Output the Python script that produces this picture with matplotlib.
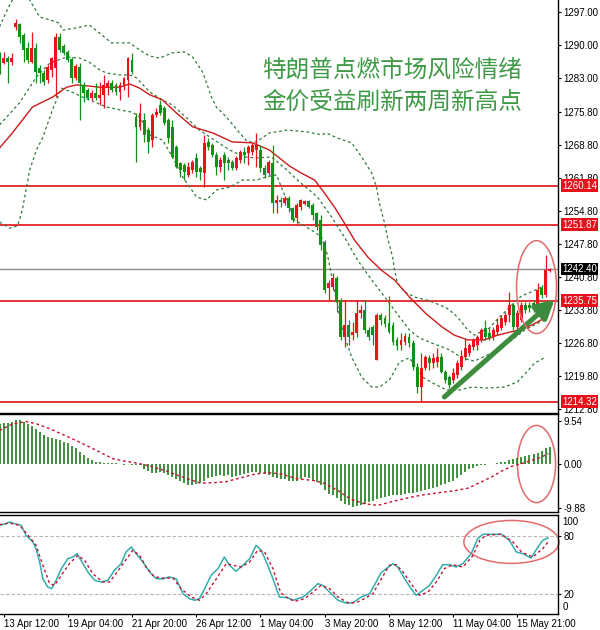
import numpy as np
import matplotlib
matplotlib.use('Agg')
import matplotlib.pyplot as plt
from matplotlib.patches import Ellipse
from matplotlib.transforms import blended_transform_factory

plt.rcParams['font.family'] = ['Liberation Sans', 'DejaVu Sans']

# === 4H gold candles ===
opens = np.array([
    1287.4, 1286.1, 1287.2, 1286.3, 1293.8, 1294.4, 1292.1, 1289.3, 1286.3, 1289.3,
    1285.1, 1284.0, 1282.5, 1284.7, 1285.1, 1291.7, 1289.7, 1288.5, 1287.0, 1283.0,
    1285.3, 1281.5, 1280.4, 1278.7, 1279.8, 1278.7, 1279.4, 1280.8, 1281.9, 1281.5,
    1280.0, 1281.5, 1282.5, 1286.8, 1274.7, 1272.6, 1274.0, 1271.9, 1269.8, 1275.1,
    1277.2, 1276.6, 1274.0, 1272.6, 1268.3, 1264.9, 1264.5, 1262.4, 1263.4, 1266.0,
    1263.9, 1262.8, 1269.4, 1268.7, 1266.6, 1264.1, 1266.6, 1265.6, 1265.1, 1263.9,
    1265.6, 1267.3, 1267.0, 1267.3, 1267.7, 1267.7, 1263.9, 1262.8, 1264.9, 1256.4,
    1257.1, 1256.4, 1257.5, 1255.4, 1253.3, 1255.6, 1256.2, 1256.9, 1256.0, 1254.3,
    1252.8, 1248.2, 1238.4, 1238.6, 1240.5, 1235.9, 1228.0, 1230.6, 1228.4, 1228.9,
    1233.1, 1233.7, 1229.5, 1230.1, 1223.1, 1232.7, 1232.0, 1231.0, 1230.6, 1227.4,
    1226.3, 1227.0, 1228.0, 1226.7, 1221.6, 1217.4, 1221.4, 1223.6, 1222.5, 1222.7,
    1223.8, 1220.6, 1219.5, 1218.9, 1219.9, 1221.6, 1223.8, 1224.6, 1225.9, 1226.3,
    1227.4, 1229.9, 1228.9, 1228.0, 1229.1, 1229.9, 1231.2, 1232.7, 1234.8, 1230.1,
    1231.6, 1234.8, 1234.8, 1235.2, 1234.2, 1238.4, 1236.9, 1242.0])
highs = np.array([
    1288.5, 1288.5, 1287.6, 1288.3, 1295.5, 1294.6, 1292.5, 1290.6, 1292.7, 1290.4,
    1285.7, 1284.7, 1285.7, 1287.4, 1292.5, 1292.5, 1290.2, 1288.9, 1287.4, 1285.9,
    1286.1, 1282.1, 1280.8, 1280.4, 1281.9, 1282.1, 1283.6, 1282.5, 1282.5, 1281.9,
    1282.1, 1283.2, 1287.4, 1288.3, 1275.5, 1277.6, 1275.5, 1272.6, 1275.5, 1276.6,
    1278.3, 1277.0, 1274.5, 1274.0, 1268.7, 1265.1, 1264.9, 1265.1, 1265.6, 1267.0,
    1264.3, 1270.9, 1270.2, 1269.2, 1267.3, 1266.2, 1267.3, 1266.2, 1265.6, 1266.4,
    1267.7, 1268.3, 1268.7, 1269.2, 1271.3, 1268.7, 1264.5, 1265.6, 1268.7, 1258.1,
    1257.7, 1257.9, 1257.9, 1255.6, 1256.4, 1257.3, 1257.1, 1257.1, 1256.4, 1254.5,
    1253.9, 1248.6, 1240.1, 1241.6, 1240.9, 1236.3, 1235.9, 1231.6, 1231.2, 1235.9,
    1234.8, 1235.9, 1230.1, 1230.6, 1233.1, 1233.1, 1232.7, 1236.7, 1231.2, 1228.0,
    1228.9, 1228.9, 1228.9, 1227.4, 1222.5, 1224.6, 1224.2, 1224.2, 1224.6, 1225.7,
    1224.6, 1221.0, 1219.9, 1221.4, 1223.1, 1225.3, 1227.8, 1226.7, 1227.8, 1228.4,
    1229.9, 1231.6, 1229.9, 1230.1, 1232.0, 1232.7, 1233.3, 1237.5, 1235.2, 1233.7,
    1235.4, 1235.4, 1235.4, 1235.9, 1239.5, 1239.0, 1245.4, 1242.7])
lows = np.array([
    1283.8, 1285.9, 1281.9, 1285.7, 1293.1, 1290.4, 1286.3, 1286.1, 1286.1, 1281.9,
    1281.9, 1281.5, 1281.9, 1283.2, 1278.9, 1288.5, 1287.8, 1286.3, 1281.9, 1282.5,
    1274.0, 1277.9, 1278.3, 1278.3, 1278.3, 1277.2, 1276.6, 1279.4, 1280.0, 1279.4,
    1278.3, 1280.4, 1278.9, 1283.8, 1265.1, 1271.9, 1269.4, 1267.0, 1268.3, 1274.7,
    1275.1, 1273.0, 1269.2, 1266.0, 1263.9, 1262.0, 1261.3, 1262.0, 1262.8, 1262.0,
    1261.3, 1259.8, 1267.7, 1266.2, 1262.4, 1263.0, 1261.3, 1263.4, 1263.4, 1263.4,
    1264.9, 1264.9, 1264.5, 1266.6, 1264.0, 1263.0, 1261.7, 1262.4, 1254.3, 1254.3,
    1255.6, 1256.0, 1254.5, 1252.4, 1252.2, 1255.0, 1256.0, 1255.4, 1252.8, 1250.7,
    1246.5, 1237.3, 1235.9, 1238.0, 1233.3, 1227.4, 1225.9, 1226.3, 1227.4, 1228.0,
    1232.0, 1228.9, 1227.4, 1226.3, 1223.1, 1230.6, 1230.1, 1228.9, 1226.3, 1225.3,
    1225.3, 1226.3, 1225.9, 1221.0, 1216.1, 1214.4, 1221.0, 1221.0, 1221.4, 1221.6,
    1220.4, 1218.3, 1217.2, 1218.3, 1219.3, 1221.0, 1223.1, 1224.0, 1225.3, 1225.3,
    1227.0, 1227.4, 1227.4, 1227.4, 1228.4, 1229.5, 1230.6, 1231.2, 1229.5, 1229.5,
    1231.2, 1233.1, 1233.3, 1233.3, 1233.7, 1236.3, 1236.5, 1241.8])
closes = np.array([
    1284.0, 1287.2, 1286.3, 1287.2, 1294.6, 1291.7, 1288.9, 1286.8, 1289.3, 1284.2,
    1284.0, 1282.1, 1285.3, 1287.2, 1291.7, 1288.9, 1288.3, 1286.8, 1283.0, 1285.5,
    1281.9, 1279.8, 1278.7, 1279.8, 1278.7, 1279.4, 1281.5, 1281.9, 1280.4, 1280.0,
    1281.5, 1283.0, 1287.2, 1284.2, 1272.6, 1275.5, 1270.9, 1269.4, 1275.1, 1275.7,
    1275.5, 1273.4, 1270.2, 1266.2, 1264.1, 1263.4, 1263.0, 1264.1, 1265.1, 1263.0,
    1263.0, 1269.2, 1268.3, 1266.6, 1264.1, 1265.6, 1264.9, 1264.9, 1263.9, 1266.0,
    1267.3, 1266.6, 1268.3, 1268.7, 1268.7, 1263.9, 1262.4, 1265.1, 1256.4, 1257.1,
    1256.6, 1257.5, 1255.4, 1252.8, 1256.0, 1257.1, 1256.9, 1255.6, 1253.9, 1251.3,
    1247.5, 1238.0, 1239.5, 1240.5, 1235.4, 1228.0, 1230.6, 1228.0, 1229.1, 1233.1,
    1233.7, 1229.5, 1228.0, 1228.4, 1232.7, 1231.6, 1230.8, 1229.1, 1227.0, 1226.1,
    1227.4, 1228.2, 1226.7, 1221.6, 1217.4, 1221.4, 1223.8, 1222.5, 1223.6, 1223.8,
    1220.6, 1218.9, 1217.8, 1220.4, 1222.5, 1224.0, 1225.7, 1226.3, 1227.4, 1228.0,
    1229.5, 1228.0, 1227.8, 1229.5, 1230.6, 1232.0, 1232.7, 1234.8, 1230.1, 1233.1,
    1234.8, 1233.7, 1234.2, 1234.2, 1238.0, 1236.9, 1242.2, 1242.4])

# Bollinger bands (upper / middle / lower), sampled at candle positions
upper_i = [0.0, 1.7, 3.2, 5.0, 6.7, 7.5, 8.7, 10.0, 12.5, 14.9, 15.7, 19.2, 22.4, 24.9, 27.9,
           32.4, 34.9, 37.4, 39.9, 43.1, 46.1, 48.1, 50.6, 52.8, 54.0, 56.5, 59.8, 61.8, 64.0,
           67.2, 71.7, 76.7, 80.2, 81.4, 84.2, 87.7, 90.2, 92.7, 93.9, 94.6, 95.9, 96.6, 97.9,
           98.4, 99.1, 100.9, 103.4, 107.1, 111.3, 113.3, 115.1, 116.6, 118.3, 120.3, 122.0,
           123.8, 126.3, 128.3, 130.0, 132.5, 135.0, 136.2]
upper_v = [1293.8, 1297.0, 1299.5, 1301.2, 1300.3, 1299.5, 1297.8, 1295.9, 1295.3, 1294.6,
           1293.1, 1293.6, 1294.2, 1292.5, 1290.4, 1290.4, 1288.9, 1287.6, 1287.2, 1288.3,
           1288.5, 1287.4, 1284.2, 1278.9, 1276.8, 1274.7, 1271.3, 1269.4, 1269.4, 1271.3,
           1271.9, 1271.5, 1270.9, 1271.3, 1270.2, 1269.2, 1266.2, 1262.8, 1259.8, 1256.4,
           1252.2, 1249.2, 1245.0, 1242.2, 1239.5, 1237.6, 1236.5, 1235.7, 1234.2, 1232.9,
           1231.2, 1229.5, 1228.4, 1229.3, 1229.9, 1231.6, 1233.7, 1235.4, 1236.7, 1237.6,
           1238.6, 1239.3]
mid_i = [0.0, 5.0, 9.2, 12.5, 16.7, 19.9, 22.4, 24.9, 26.7, 29.9, 32.4, 34.1, 37.4, 40.6,
         43.1, 46.6, 49.8, 53.5, 57.3, 61.0, 64.0, 67.7, 71.0, 74.2, 79.2, 82.7, 85.9, 89.2,
         92.2, 94.6, 97.1, 99.6, 102.1, 104.6, 107.8, 112.1, 115.1, 118.3, 121.5, 125.0,
         128.3, 130.8, 133.3, 135.7]
mid_v = [1273.0, 1277.7, 1283.2, 1286.1, 1287.4, 1287.2, 1286.3, 1284.7, 1284.0, 1283.6,
         1283.6, 1283.0, 1280.0, 1278.3, 1277.2, 1274.5, 1271.9, 1269.8, 1267.7, 1266.2,
         1266.0, 1266.2, 1263.9, 1261.3, 1257.7, 1253.5, 1249.2, 1244.3, 1240.7, 1238.0,
         1235.2, 1232.3, 1229.5, 1227.8, 1226.7, 1225.3, 1223.6, 1222.9, 1224.2, 1225.7,
         1227.8, 1229.5, 1230.6, 1231.6]
low_i = [0.0, 2.5, 4.5, 5.7, 7.5, 9.2, 10.7, 13.2, 15.4, 17.9, 20.7, 24.2, 26.7, 29.9, 33.1,
         34.9, 37.4, 40.6, 43.1, 45.6, 49.1, 51.6, 54.0, 57.3, 60.5, 64.0, 66.5, 69.0, 71.0,
         73.5, 77.7, 80.2, 81.7, 83.4, 85.4, 87.7, 90.2, 92.7, 94.6, 97.1, 99.6, 102.1, 105.4,
         107.8, 111.3, 114.6, 117.6, 121.5, 125.8, 129.0, 131.3, 133.3, 135.7]
low_v = [1252.4, 1251.1, 1251.6, 1255.0, 1263.4, 1267.7, 1270.2, 1276.2, 1280.8, 1280.0,
         1278.9, 1277.7, 1276.8, 1276.2, 1275.7, 1274.7, 1270.9, 1269.8, 1266.2, 1262.0,
         1257.7, 1257.1, 1259.2, 1259.8, 1261.3, 1261.3, 1262.0, 1262.4, 1258.1, 1252.8,
         1250.7, 1249.2, 1245.4, 1238.0, 1229.5, 1223.8, 1219.5, 1217.4, 1217.4, 1218.9,
         1222.7, 1223.6, 1219.5, 1218.3, 1216.8, 1216.8, 1217.4, 1217.2, 1217.4, 1218.5,
         1220.6, 1222.5, 1223.6]

# red moving average
ma_i = [0.0, 3.2, 8.2, 13.2, 16.7, 19.2, 21.7, 24.9, 29.9, 32.4, 34.9, 37.4, 40.6, 44.1, 48.1,
        53.1, 58.0, 63.0, 67.2, 72.2, 74.7, 78.5, 80.9, 83.4, 85.9, 88.4, 91.7, 95.1, 98.4,
        102.1, 106.3, 110.3, 113.3, 116.6, 120.8, 124.0, 128.3, 131.5, 134.0, 136.2]
ma_v = [1268.1, 1271.3, 1276.8, 1278.9, 1281.0, 1281.5, 1281.3, 1281.0, 1281.0, 1281.7,
        1280.8, 1279.4, 1278.3, 1275.5, 1272.6, 1271.3, 1269.4, 1269.2, 1267.7, 1264.3,
        1263.0, 1261.3, 1258.6, 1255.6, 1252.2, 1248.6, 1245.0, 1242.2, 1240.1, 1236.5,
        1232.9, 1230.1, 1228.4, 1227.4, 1227.4, 1228.4, 1229.3, 1230.1, 1231.2, 1232.3]

red_levels = [1260.14, 1251.87, 1235.75, 1214.32]
last_price = 1242.40
price_ticks = [1297.00, 1290.00, 1283.00, 1275.80, 1268.80, 1261.80, 1254.80,
               1247.80, 1240.80, 1233.80, 1226.80, 1219.80, 1212.80]

# MACD
macd_hist = [
    9.0, 9.2, 9.2, 9.4, 9.8, 9.8, 9.4, 9.0, 8.6, 7.9,
    7.1, 6.4, 6.0, 5.8, 5.6, 5.4, 5.0, 4.7, 4.1, 3.5,
    2.6, 2.0, 1.3, 0.75, 0.5, 0.4, 0.2, 0.15, 0.1, 0.05,
    -0.1, -0.2, -0.1, -0.3, -0.3, -0.4, -1.3, -1.7, -2.0, -2.0,
    -1.9, -2.0, -2.5, -3.0, -3.4, -4.0, -4.3, -4.8, -4.8, -4.5,
    -4.3, -3.8, -3.3, -3.0, -2.8, -2.6, -2.8, -2.6, -3.0, -2.8,
    -2.5, -2.3, -2.1, -1.9, -1.9, -2.1, -2.3, -2.6, -3.0, -3.3,
    -3.4, -3.4, -3.8, -4.0, -3.8, -3.4, -3.0, -3.2, -3.8, -4.1,
    -4.9, -6.0, -6.8, -7.1, -7.7, -8.5, -9.0, -9.4, -9.8, -9.5,
    -9.2, -9.0, -8.6, -8.5, -8.0, -7.7, -7.5, -7.3, -7.1, -7.1,
    -7.0, -6.8, -6.6, -6.5, -6.4, -6.2, -6.0, -5.8, -5.5, -5.3,
    -4.9, -4.5, -4.1, -3.8, -3.2, -2.6, -1.9, -1.3, -1.0, -0.6,
    -0.4, -0.2, -0.15, 0.0, 0.15, 0.4, 0.5, 0.9, 1.1, 1.4,
    1.5, 1.7, 2.0, 2.3, 2.5, 2.8, 3.5, 3.8]
sig_i = [0, 3.3, 6.7, 9.2, 12.5, 16.7, 20.8, 25.0, 28.3, 31.7, 35.0, 38.3, 41.7, 45.0, 47.5,
         50.0, 53.3, 56.7, 60.0, 63.3, 66.7, 70.0, 74.2, 78.3, 80.8, 84.2, 87.5, 90.8, 94.2,
         97.5, 101.7, 105.0, 109.0, 113.3, 116.7, 120.0, 122.5, 125.0, 127.5, 130.0, 132.5,
         135.0, 136.7]
sig_v = [7.5, 9.0, 9.5, 9.0, 7.9, 6.2, 4.5, 2.6, 1.1, 0.5, 0.0, -0.75, -1.7, -2.8, -3.6,
         -4.35, -4.3, -4.0, -3.2, -2.4, -2.0, -2.3, -3.4, -3.8, -4.4, -6.0, -8.0, -9.0, -9.4,
         -8.6, -7.7, -7.1, -6.6, -6.1, -5.5, -4.1, -3.0, -1.7, -0.6, 0.0, 0.75, 1.5, 2.3]

# Stochastic %K / %D
k_i = [0, 1.7, 2.5, 3.7, 5.4, 6.6, 8.3, 9.1, 10.0, 10.8, 12.0, 13.0, 14.1, 15.4, 17.0, 18.3,
       19.3, 20.3, 22.0, 23.7, 25.3, 27.0, 28.6, 30.3, 31.5, 32.8, 34.0, 35.7, 37.4, 39.0,
       40.7, 42.3, 44.0, 45.7, 47.3, 48.6, 49.8, 51.1, 52.7, 54.4, 56.0, 57.3, 58.9, 60.6,
       62.3, 63.9, 65.2, 66.8, 68.1, 69.7, 71.7, 73.1, 75.6, 77.6, 79.3, 80.5, 82.2, 84.3,
       86.3, 88.0, 90.1, 92.2, 93.8, 95.0, 96.3, 98.0, 99.2, 100.9, 102.5, 103.8, 105.4,
       107.1, 108.8, 110.4, 112.1, 113.7, 115.4, 117.5, 119.1, 120.4, 122.1, 125.0, 127.0,
       128.7, 130.3, 132.4, 134.1, 135.3, 136.6]
k_v = [91, 92.7, 94.5, 92.7, 91, 80.8, 74, 67, 53, 36, 27.6, 25.9, 34.4, 46.4, 56.7, 58.4,
       61.9, 55, 43, 34.4, 32.7, 34.4, 44.7, 51.6, 63.6, 68.7, 62, 53.3, 43, 36.1,
       36, 37.9, 36, 20.7, 15.6, 13.9, 15.6, 25.9, 39.6, 46.4, 58.4, 49.9, 43.7, 49.9,
       56.7, 70.4, 65.3, 49.9, 36, 17.3, 16.6, 13.9, 17.3, 24.1, 31, 29.3, 22.4, 13.9,
       11.1, 11.4, 17.3, 20.7, 32.7, 42, 46.4, 51.6, 48.1, 36, 25.9, 19, 24.1,
       29.3, 39.6, 50.5, 50.5, 48.1, 51.6, 61.9, 77.3, 81.8, 81.8, 81.8, 75.6,
       63.6, 61.9, 57.4, 68.7, 75.6, 78]
d_i = [0, 2.5, 5.0, 7.1, 9.1, 10.8, 12.5, 13.7, 15.4, 17.4, 19.5, 21.2, 23.2, 25.7, 27.4,
       29.0, 31.1, 33.2, 34.9, 36.5, 38.6, 40.7, 43.2, 45.2, 47.7, 49.8, 51.5, 54.0, 56.5,
       58.1, 60.2, 62.3, 64.3, 66.0, 68.1, 70.0, 71.4, 73.5, 76.0, 78.1, 80.1, 82.2, 84.3,
       86.8, 88.8, 90.9, 93.0, 95.1, 97.1, 98.8, 100.5, 102.5, 104.6, 106.7, 108.8, 110.8,
       112.9, 115.4, 117.9, 119.6, 121.2, 125.0, 127.9, 130.0, 132.8, 135.3, 136.6]
d_v = [91.7, 93.4, 91, 80.8, 70.5, 49.9, 31, 29.3, 39.6, 51.6, 60.1, 55, 41.3, 32.7, 32.7,
       41.3, 53.3, 65.3, 60.1, 48.1, 37.9, 36.8, 36.8, 25.9, 17.3, 13.9, 20.7, 36, 51.6,
       49.9, 48.1, 53.3, 65.3, 63.6, 46.4, 22, 17.3, 12.8, 15.6, 22.4, 29.3, 25.9, 17.3,
       11.4, 11.4, 15.6, 20.7, 36, 49.9, 50.5, 43, 31, 19, 22.4, 32.7, 46.4,
       50.5, 48.1, 59.8, 75.6, 80.8, 81.8, 73.8, 63.6, 58.4, 67, 73.8]

date_idx = [1, 17, 33, 49, 65, 81, 97, 113, 129]
date_labels = ['13 Apr 12:00', '19 Apr 04:00', '21 Apr 20:00', '26 Apr 12:00', '1 May 04:00',
               '3 May 20:00', '8 May 12:00', '11 May 04:00', '15 May 21:00']

title_lines = ['特朗普点燃市场风险情绪', '金价受益刷新两周新高点']

# colours
C_UP = '#e8141c'
C_DN = '#13901a'
C_BAND = '#2f7a3a'
C_LEVEL = '#e01010'
C_CIRCLE = '#e36a6a'

fig = plt.figure(figsize=(6, 6.3), dpi=100)
ax = fig.add_axes([0, 0.3452, 0.93, 0.6548])
ax_m = fig.add_axes([0, 0.18651, 0.93, 0.15556])
ax_s = fig.add_axes([0, 0.02540, 0.93, 0.15635])

xlim = (0.12, 139.1)
idx = np.arange(len(closes))

# --- main price panel ---
up = closes >= opens
cols = np.where(up, C_UP, C_DN)
ax.vlines(idx, lows, highs, colors=cols, lw=0.9, zorder=3)
body = np.maximum(np.abs(closes - opens), 0.2)
ax.bar(idx, body, bottom=np.minimum(opens, closes), width=0.72, color=cols, lw=0, zorder=4)

for bi, bv in [(upper_i, upper_v), (mid_i, mid_v), (low_i, low_v)]:
    ax.plot(bi, bv, color=C_BAND, lw=0.9, ls=(0, (2.2, 2.2)), zorder=2)
ax.plot(ma_i, ma_v, color='#cc1a1a', lw=1.0, zorder=2)

for lv in red_levels:
    ax.axhline(lv, color=C_LEVEL, lw=1.2, zorder=1)
ax.axhline(last_price, color='#8c8c8c', lw=1.0, zorder=1)

ax.set_xlim(*xlim)
ax.set_ylim(1212.0, 1299.5)
ax.yaxis.tick_right()
ax.set_yticks(price_ticks)
ax.set_yticklabels([f'{t:.2f}' for t in price_ticks])
ax.set_xticks([])
ax.tick_params(axis='y', direction='out', length=2.2, width=0.8, pad=1.8, labelsize=7)

trans = blended_transform_factory(ax.transAxes, ax.transData)
for lv in red_levels:
    ax.text(1.0075, lv, f'{lv:.2f}', transform=trans, ha='left', va='center', color='white',
            fontsize=7, zorder=10, clip_on=False,
            bbox=dict(boxstyle='square,pad=0.12', fc='#e8101a', ec='none'))
ax.text(1.0075, last_price, f'{last_price:.2f}', transform=trans, ha='left', va='center',
        color='white', fontsize=7, zorder=10, clip_on=False,
        bbox=dict(boxstyle='square,pad=0.12', fc='black', ec='none'))

ax.text(0.7025, 0.830, title_lines[0], transform=ax.transAxes, ha='center', va='center',
        fontsize=17, color='#3f9a48', family=['Noto Sans CJK SC'])
ax.text(0.7025, 0.753, title_lines[1], transform=ax.transAxes, ha='center', va='center',
        fontsize=17, color='#3f9a48', family=['Noto Sans CJK SC'])

ax.annotate('', xy=(138.2, 1235.9), xytext=(110.8, 1215.3),
            arrowprops=dict(arrowstyle='-|>,head_length=0.9,head_width=0.5', lw=3.6,
                            color='#3d8b3d', shrinkA=0, shrinkB=0, mutation_scale=12),
            zorder=6, annotation_clip=False)
ax.add_patch(Ellipse((133.75, 1238.6), 9.96, 19.7, fill=False, ec=C_CIRCLE, lw=1.1, zorder=7))

# --- MACD panel ---
ax_m.vlines(idx, 0, macd_hist, colors='#1e7d1e', lw=1.2)
ax_m.plot(sig_i, sig_v, color='#c41230', lw=1.0, ls=(0, (2, 2)))
ax_m.set_xlim(*xlim)
ax_m.set_ylim(-11.0, 11.1)
ax_m.yaxis.tick_right()
ax_m.set_yticks([9.54, 0.0, -9.88])
ax_m.set_yticklabels(['9.54', '0.00', '-9.88'])
ax_m.set_xticks([])
ax_m.tick_params(axis='y', direction='out', length=2.2, width=0.8, pad=1.8, labelsize=7)
ax_m.add_patch(Ellipse((133.75, -0.07), 9.5, 17.4, fill=False, ec=C_CIRCLE, lw=1.1))

# --- Stochastic panel ---
ax_s.axhline(80, color='#b4b4b4', lw=0.8, ls=(0, (3, 2)))
ax_s.axhline(20, color='#b4b4b4', lw=0.8, ls=(0, (3, 2)))
ax_s.plot(k_i, k_v, color='#32aeae', lw=1.1)
ax_s.plot(d_i, d_v, color='#c41230', lw=1.0, ls=(0, (2, 2)))
ax_s.set_xlim(*xlim)
ax_s.set_ylim(-0.2, 101.1)
ax_s.yaxis.tick_right()
ax_s.set_yticks([80, 20])
ax_s.set_yticklabels(['80', '20'])
ax_s.tick_params(axis='y', direction='out', length=2.2, width=0.8, pad=1.8, labelsize=7)
strans = blended_transform_factory(ax_s.transAxes, ax_s.transData)
ax_s.text(1.0075, 94.5, '100', transform=strans, ha='left', va='center', fontsize=7)
ax_s.text(1.0075, 6.5, '0', transform=strans, ha='left', va='center', fontsize=7)
ax_s.set_xticks(date_idx)
ax_s.set_xticklabels(date_labels, ha='left')
ax_s.tick_params(axis='x', direction='out', length=2.2, width=0.8, pad=1.5, labelsize=7)
ax_s.add_patch(Ellipse((127.5, 73.9), 23.7, 44.2, fill=False, ec=C_CIRCLE, lw=1.1,
                       clip_on=False))

for a in (ax, ax_m, ax_s):
    a.spines['left'].set_visible(False)
    for s in ('right', 'bottom', 'top'):
        a.spines[s].set_linewidth(1.0)
        a.spines[s].set_color('black')
ax.spines['top'].set_visible(False)

fig.savefig('out.png', dpi=100)
